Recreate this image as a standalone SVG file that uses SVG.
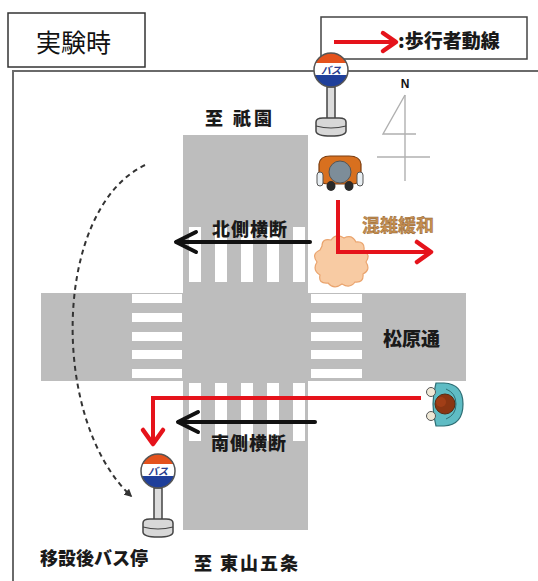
<svg xmlns="http://www.w3.org/2000/svg" width="538" height="581" viewBox="0 0 538 581">
  <style>
    .lbl { font-family: "Noto Sans CJK JP", "Noto Sans CJK SC", sans-serif; font-weight: 900; fill: #1a1a1a; }
    .road { fill: #bdbdbd; }
    .zebra { fill: #ffffff; }
    .blk { fill: none; stroke: #111; stroke-width: 4; stroke-linecap: round; stroke-linejoin: round; }
    .red { fill: none; stroke: #e5131b; stroke-width: 4; stroke-linejoin: miter; }
    .redhead { fill: none; stroke: #e5131b; stroke-width: 4.5; stroke-linecap: round; stroke-linejoin: round; }
    .compass { stroke: #b0b0b0; stroke-width: 1.4; fill: none; }
  </style>
  <defs>
    <clipPath id="signClip"><circle cx="0" cy="0" r="17"/></clipPath>
    <marker id="dashHead" viewBox="0 0 10 10" refX="8" refY="5" markerWidth="4" markerHeight="4" orient="auto">
      <path d="M0,0 L10,5 L0,10 Z" fill="#333"/>
    </marker>
    <!-- bus stop sign, origin at sign centre -->
    <g id="busStop">
      <rect x="-4" y="17" width="8" height="34" fill="#dcdcdc" stroke="#444" stroke-width="1.5"/>
      <path d="M-15,52 Q-15,48 -8,48 L8,48 Q15,48 15,52 L15,61 Q15,66 0,66 Q-15,66 -15,61 Z" fill="#d8d8d8" stroke="#444" stroke-width="1.5"/>
      <path d="M-15,56 Q0,60 15,56" fill="none" stroke="#444" stroke-width="1.2"/>
      <g clip-path="url(#signClip)">
        <rect x="-18" y="-18" width="36" height="36" fill="#1f3f9a"/>
        <rect x="-18" y="-18" width="36" height="12" fill="#e4521c"/>
        <rect x="-18" y="-7" width="36" height="12" fill="#ffffff"/>
      </g>
      <circle cx="0" cy="0" r="17" fill="none" stroke="#555" stroke-width="1.5"/>
      <text x="0" y="3.5" text-anchor="middle" font-family="Noto Sans CJK JP, sans-serif" font-size="10" font-weight="bold" font-style="italic" fill="#2a3f90">バス</text>
    </g>
  </defs>

  <rect width="538" height="581" fill="#ffffff"/>

  <!-- heading box -->
  <g id="title">
    <rect x="8" y="13" width="137" height="54" fill="#fff" stroke="#333" stroke-width="1.5"/>
    <text x="36" y="52" font-family="Noto Sans CJK JP, sans-serif" font-size="25" fill="#111">実験時</text>
  </g>

  <!-- legend -->
  <g id="legend">
    <rect x="321" y="17" width="206" height="42" fill="#fff" stroke="#444" stroke-width="1.5"/>
    <line x1="334" y1="42" x2="394" y2="42" class="red"/>
    <polyline points="383,33 396,42 383,51" class="redhead"/>
    <text x="398" y="48" class="lbl" font-size="19">:歩行者動線</text>
  </g>

  <!-- map frame -->
  <g id="frame" fill="none" stroke="#6a6a6a" stroke-width="2">
    <polyline points="538,71 13,71 13,581"/>
  </g>

  <!-- roads and crossings -->
  <g id="roads">
    <rect class="road" x="183" y="135" width="125" height="395"/>
    <rect class="road" x="41" y="293" width="425" height="88"/>
    <!-- north crossing -->
    <rect class="zebra" x="189" y="227" width="12" height="55"/>
    <rect class="zebra" x="215" y="227" width="12" height="55"/>
    <rect class="zebra" x="241" y="227" width="12" height="55"/>
    <rect class="zebra" x="267" y="227" width="12" height="55"/>
    <rect class="zebra" x="293" y="227" width="12" height="55"/>
    <!-- south crossing -->
    <rect class="zebra" x="189" y="383" width="12" height="58"/>
    <rect class="zebra" x="215" y="383" width="12" height="58"/>
    <rect class="zebra" x="241" y="383" width="12" height="58"/>
    <rect class="zebra" x="267" y="383" width="12" height="58"/>
    <rect class="zebra" x="293" y="383" width="12" height="58"/>
    <!-- west crossing -->
    <rect class="zebra" x="132" y="294" width="50" height="9"/>
    <rect class="zebra" x="132" y="313" width="50" height="9"/>
    <rect class="zebra" x="132" y="332" width="50" height="9"/>
    <rect class="zebra" x="132" y="350" width="50" height="9"/>
    <rect class="zebra" x="132" y="369" width="50" height="9"/>
    <!-- east crossing -->
    <rect class="zebra" x="311" y="294" width="51" height="9"/>
    <rect class="zebra" x="311" y="313" width="51" height="9"/>
    <rect class="zebra" x="311" y="332" width="51" height="9"/>
    <rect class="zebra" x="311" y="350" width="51" height="9"/>
    <rect class="zebra" x="311" y="369" width="51" height="9"/>
  </g>

  <!-- compass -->
  <g id="compass">
    <text x="405" y="88" text-anchor="middle" font-family="Liberation Sans, sans-serif" font-weight="bold" font-size="12" fill="#111">N</text>
    <line class="compass" x1="405" y1="95" x2="405" y2="181"/>
    <polyline class="compass" points="405,95 383,134 416,134"/>
    <line class="compass" x1="377" y1="157" x2="430" y2="157"/>
  </g>

  <!-- labels -->
  <g id="labels">
    <text x="205" y="125" class="lbl" font-size="18" letter-spacing="3">至 祇園</text>
    <text x="212" y="236" class="lbl" font-size="18" letter-spacing="1">北側横断</text>
    <text x="383" y="346" class="lbl" font-size="19">松原通</text>
    <text x="211" y="450" class="lbl" font-size="18" letter-spacing="1">南側横断</text>
    <text x="40" y="565" class="lbl" font-size="18">移設後バス停</text>
    <text x="194" y="570" class="lbl" font-size="18" letter-spacing="2">至 東山五条</text>
    <text x="362" y="232" font-family="Noto Sans CJK JP, sans-serif" font-weight="bold" font-size="18" fill="#c89050" stroke="#8a5a2a" stroke-width="0.4">混雑緩和</text>
  </g>

  <!-- bus stops -->
  <g id="busStopNorth"><use href="#busStop" x="331" y="70"/></g>
  <g id="busStopSouth"><use href="#busStop" x="158" y="471"/></g>

  <!-- pedestrian near north stop, seen from above -->
  <g id="pedNorth">
    <path d="M319,164 Q320,156 330,156 L349,156 Q360,156 361,164 L361,176 Q361,184 352,184 L328,184 Q319,184 319,176 Z" fill="#d8701f" stroke="#7a3d10" stroke-width="1.2"/>
    <rect x="317" y="172" width="6" height="14" rx="3" fill="#e8eef2" stroke="#555" stroke-width="1"/>
    <rect x="357" y="172" width="6" height="14" rx="3" fill="#e8eef2" stroke="#555" stroke-width="1"/>
    <ellipse cx="340" cy="172" rx="11" ry="11" fill="#7d8d99" stroke="#555" stroke-width="1"/>
    <ellipse cx="331" cy="186" rx="4.5" ry="5" fill="#2a2a2a"/>
    <ellipse cx="349" cy="186" rx="4.5" ry="5" fill="#2a2a2a"/>
  </g>

  <!-- crowd at north corner -->
  <g id="crowd">
    <path d="M322,246 Q322,238 331,240 Q336,233 344,238 Q352,234 356,242 Q365,241 364,250 Q371,255 366,262 Q371,270 363,274 Q364,283 355,282 Q350,289 342,284 Q334,290 328,283 Q318,284 320,275 Q312,270 317,262 Q311,254 320,250 Z" fill="#f8cba3" stroke="#eaa46e" stroke-width="1.2"/>
  </g>

  <!-- pedestrian east of south crossing, seen from above -->
  <g id="pedSouth">
    <path d="M436,383 L444,383 Q463,384 463,404 Q463,425 444,426 L436,426 Q430,404 436,383 Z" fill="#5fbcc4" stroke="#2e6e74" stroke-width="1.2"/>
    <path d="M446,389 Q456,393 456,404 Q456,415 446,419" fill="none" stroke="#2e6e74" stroke-width="1"/>
    <circle cx="431" cy="392" r="4.5" fill="#efe8d6" stroke="#555" stroke-width="1"/>
    <circle cx="431" cy="416" r="4.5" fill="#efe8d6" stroke="#555" stroke-width="1"/>
    <circle cx="445" cy="404" r="10" fill="#8a3512" stroke="#5a2a10" stroke-width="1"/>
    <circle cx="441" cy="402" r="5" fill="#b0451a" opacity="0.6"/>
  </g>

  <!-- walking routes -->
  <g id="connectors">
    <!-- north crossing flow -->
    <line class="blk" x1="310" y1="242" x2="177" y2="242"/>
    <polyline class="blk" points="196,232 176,242 196,252"/>
    <!-- south crossing flow -->
    <line class="blk" x1="315" y1="422" x2="179" y2="422"/>
    <polyline class="blk" points="198,412 178,422 198,432"/>
    <!-- pedestrian route to the east -->
    <polyline class="red" points="338,200 338,252 430,252"/>
    <polyline class="redhead" points="417,242 431,252 417,262"/>
    <!-- pedestrian route to the relocated stop -->
    <polyline class="red" points="421,398 153,398 153,443"/>
    <polyline class="redhead" points="143,430 153,444 163,430"/>
    <!-- stop relocation -->
    <path d="M145,165 C52,210 50,420 131,496" fill="none" stroke="#333" stroke-width="2" stroke-dasharray="5,4" marker-end="url(#dashHead)"/>
  </g>
</svg>
